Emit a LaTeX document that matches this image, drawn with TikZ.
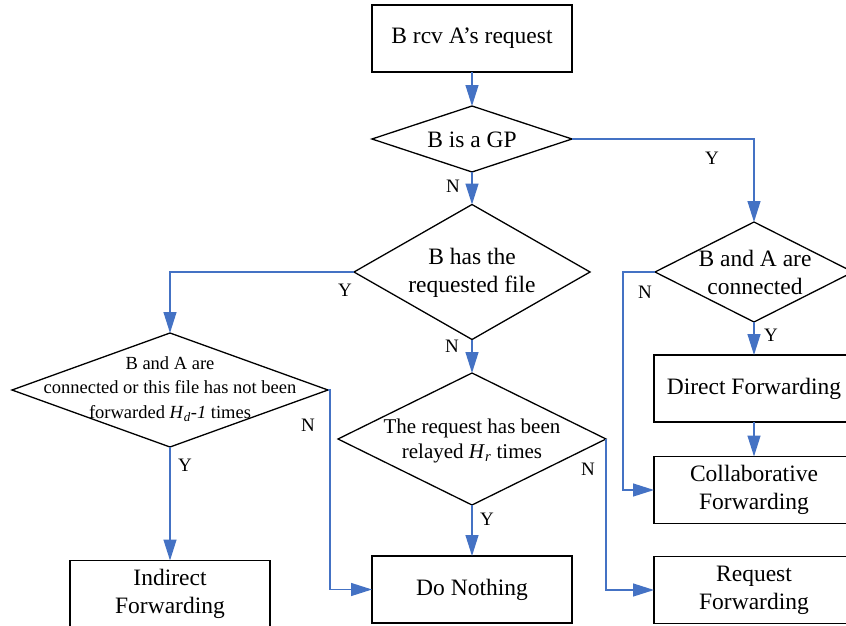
\documentclass[tikz,border=0pt]{standalone}
\usepackage{fontspec}
\setmainfont{Liberation Serif}
\usetikzlibrary{shapes.geometric,arrows.meta}
\definecolor{lineblue}{RGB}{68,114,196}
\begin{document}
\begin{tikzpicture}[x=1pt,y=-1pt,
  box/.style={draw=black, line width=1.3pt, minimum width=#1, minimum height=67pt,
    inner sep=0pt, outer sep=0pt, align=center, font=\fontsize{23.5}{28}\selectfont},
  box/.default=200pt,
  dia/.style 2 args={diamond, draw=black, line width=1.3pt, minimum width=#1,
    minimum height=#2, inner sep=0pt, outer sep=0pt},
  bigtext/.style={align=center, inner sep=0pt, font=\fontsize{23.5}{28}\selectfont},
  midtext/.style={align=center, inner sep=0pt, font=\fontsize{21}{25}\selectfont},
  smalltext/.style={align=center, inner sep=0pt, font=\fontsize{18.5}{24.5}\selectfont},
  lbl/.style={inner sep=0pt, font=\fontsize{19}{22}\selectfont},
  flow/.style={draw=lineblue, line width=1.3pt, -{Triangle[length=21pt,width=13pt]}}
]
\useasboundingbox (0,0) rectangle (846,626);

% boxes
\node[box] (start) at (472,38.5) {B rcv A’s request};
\node[box] (direct) at (754,388.5) {Direct Forwarding};
\node[box] (collab) at (754,490) {Collaborative\\Forwarding};
\node[box] (reqf) at (754,590) {Request\\Forwarding};
\node[box] (nothing) at (472,589.5) {Do Nothing};
\node[box] (indirect) at (170,594) {Indirect\\Forwarding};

% diamonds
\node[dia={200pt}{66pt}] (d1) at (472,139) {};
\node[bigtext] (d1t) at (472,140) {B is a GP};
\node[dia={236pt}{135pt}] (d2) at (472,272) {};
\node[bigtext] (d2t) at (472,273) {B has the\\requested file};
\node[dia={198pt}{100pt}] (d3) at (754,272) {};
\node[bigtext] (d3t) at (755,272.5) {B and A are\\connected};
\node[dia={268pt}{132pt}] (d4) at (472,439) {};
\node[midtext] (d4t) at (472,440.5) {The request has been\\relayed \textit{H}\textsubscript{\textit{r}} times};
\node[dia={316pt}{114pt}] (d5) at (170,390) {};
\node[smalltext] (d5t) at (170,389) {B and A are\\connected or this file has not been\\forwarded \textit{H}\textsubscript{\textit{d}}\textit{-1} times};

% connectors
\draw[flow] (start.south) -- (d1.north);
\draw[flow] (d1.south) -- (d2.north);
\draw[flow] (d1.east) -| (d3.north);
\draw[flow] (d2.west) -| (d5.north);
\draw[flow] (d2.south) -- (d4.north);
\draw[flow] (d3.south) -- (direct.north);
\draw[flow] (direct.south) -- (collab.north);
\draw[flow] (d3.west) -- ++(-32,0) |- (collab.west);
\draw[flow] (d4.east) |- (reqf.west);
\draw[flow] (d4.south) -- (nothing.north);
\draw[flow] (d5.east) -- ++(2,0) |- (nothing.west);
\draw[flow] (d5.south) -- (indirect.north);

% labels
\node[lbl] (lN1) at (453,186) {N};
\node[lbl] (lY1) at (712,158) {Y};
\node[lbl] (lY2) at (345,290) {Y};
\node[lbl] (lN2) at (452,346) {N};
\node[lbl] (lN3) at (645,292) {N};
\node[lbl] (lY3) at (771,335) {Y};
\node[lbl] (lN4) at (588,469) {N};
\node[lbl] (lY4) at (487,519) {Y};
\node[lbl] (lN5) at (308,425) {N};
\node[lbl] (lY5) at (185,465) {Y};
\end{tikzpicture}
\end{document}
